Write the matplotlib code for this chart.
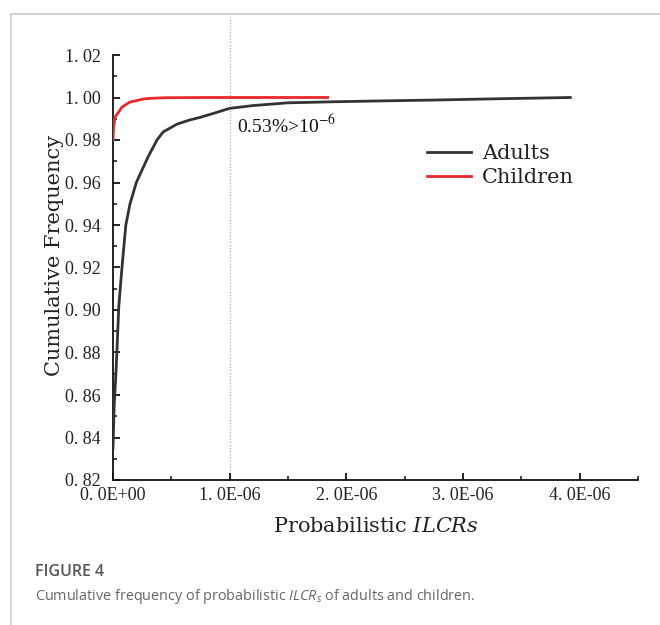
import matplotlib
matplotlib.use("Agg")
import matplotlib.pyplot as plt
from matplotlib.ticker import FixedLocator, MultipleLocator, FuncFormatter
from matplotlib.lines import Line2D

plt.rcParams["mathtext.fontset"] = "custom"
plt.rcParams["mathtext.rm"] = "Open Sans"
plt.rcParams["mathtext.it"] = "Open Sans:italic"

# ---- data (x in units of 1E-06) ----
adult_x = [0, 0.01, 0.026, 0.05, 0.077, 0.11, 0.146, 0.2, 0.25, 0.3, 0.377, 0.43,
           0.55, 0.65, 0.75, 0.86, 1.0, 1.2, 1.5, 1.9, 2.3, 2.75, 3.2, 3.6, 3.92]
adult_y = [0.835, 0.855, 0.871, 0.902, 0.92, 0.94, 0.95, 0.96, 0.966, 0.972, 0.98, 0.9838,
           0.9875, 0.9893, 0.9907, 0.9925, 0.9949, 0.9962, 0.9975, 0.998, 0.9984,
           0.9988, 0.9993, 0.9997, 1.0]
child_x = [0, 0.005, 0.017, 0.043, 0.077, 0.146, 0.2, 0.26, 0.32, 0.45, 0.8, 1.3, 1.84]
child_y = [0.980, 0.986, 0.9908, 0.9927, 0.9955, 0.9979, 0.9985, 0.9993, 0.9996, 0.9999,
           1.0, 1.0, 1.0]
series_labels = ["Adults", "Children"]
x_label = "Probabilistic"
annot_text = "0.53%>10"
y_ticks = [0.82, 0.84, 0.86, 0.88, 0.90, 0.92, 0.94, 0.96, 0.98, 1.00, 1.02]
x_ticks = [0, 1e-6, 2e-6, 3e-6, 4e-6]

SCALE = 1e-6
ax_x = [v * SCALE for v in adult_x]
cx_x = [v * SCALE for v in child_x]

fig = plt.figure(figsize=(6.6, 6.25), dpi=100)
ax = fig.add_axes([113 / 660, 1 - 480 / 625, (638 - 113) / 660, (480 - 55) / 625])

ax.plot(ax_x, adult_y, color="#333333", lw=2.0, solid_joinstyle="round", zorder=3)
ax.plot(cx_x, child_y, color="#e8282b", lw=2.0, solid_joinstyle="round", zorder=4)

ax.set_xlim(0, 4.5e-6)
ax.set_ylim(0.82, 1.02)

# dotted reference line at 1E-06
ax.plot([1e-6, 1e-6], [0.82, 1.038], color="#aaaaaa", lw=0.9, ls=(0, (1, 1.5)),
        clip_on=False, zorder=1)

for s in ["top", "right"]:
    ax.spines[s].set_visible(False)
for s in ["left", "bottom"]:
    ax.spines[s].set_linewidth(1.3)
    ax.spines[s].set_color("#111111")

ax.yaxis.set_major_locator(FixedLocator(y_ticks))
ax.yaxis.set_minor_locator(MultipleLocator(0.01))
ax.xaxis.set_major_locator(FixedLocator(x_ticks))
ax.xaxis.set_minor_locator(MultipleLocator(0.5e-6))
ax.yaxis.set_major_formatter(FuncFormatter(lambda v, p: f"{v:.2f}".replace(".", ". ")))
def xfmt(v, p):
    m, e = f"{v:.1E}".split("E")
    return m.replace(".", ". ") + "E" + e
ax.xaxis.set_major_formatter(FuncFormatter(xfmt))

ax.tick_params(which="major", direction="in", length=5, width=1.3, color="#111111",
               labelsize=13)
ax.tick_params(which="minor", direction="in", length=3, width=1.1, color="#111111")
ax.tick_params(axis="y", which="major", pad=9)
ax.tick_params(axis="x", which="major", pad=5)
for lab in ax.get_xticklabels() + ax.get_yticklabels():
    lab.set_fontfamily("Liberation Serif")
    lab.set_color("#222222")
for lab in ax.get_yticklabels():
    lab.set_verticalalignment("center_baseline")

fig.text(55 / 660, 1 - 255 / 625, "Cumulative Frequency", rotation=90, ha="center",
         va="center", family="DejaVu Serif", fontsize=15, color="#222222")
fig.text(376 / 660, 1 - 527 / 625,
         x_label + r" $\mathit{ILCRs}$", ha="center", va="center",
         family="DejaVu Serif", fontsize=15, color="#222222", math_fontfamily="dejavuserif")

ax.text(1.06e-6, 0.987, annot_text + r"$^{-6}$", family="Liberation Serif",
        fontsize=14, color="#111111", ha="left", va="center", math_fontfamily="stix")

handles = [Line2D([], [], color="#333333", lw=2.0), Line2D([], [], color="#e8282b", lw=2.0)]
leg = ax.legend(handles, series_labels, loc="upper left",
                bbox_to_anchor=((427 - 113) / 525, 1 - (144 - 55) / 425),
                frameon=False, handlelength=2.1, handletextpad=0.55,
                labelspacing=0.25, borderpad=0, borderaxespad=0,
                prop={"family": "DejaVu Serif", "size": 15})
for t in leg.get_texts():
    t.set_color("#222222")

# page frame lines
fig.add_artist(Line2D([11 / 660, 11 / 660], [0, 1 - 14 / 625], color="#cccccc", lw=1.2))
fig.add_artist(Line2D([11 / 660, 1], [1 - 14 / 625, 1 - 14 / 625], color="#cccccc", lw=1.2))

fig.text(35 / 660, 1 - 572 / 625, "FIGURE 4", family="Open Sans", fontweight="semibold",
         fontsize=11.5, color="#555555", ha="left", va="center")
fig.text(35 / 660, 1 - 597 / 625,
         r"Cumulative frequency of probabilistic $\mathit{ILCR}_{s}$ of adults and children.",
         family="Open Sans", fontsize=10.4, color="#666666", ha="left", va="center",
         math_fontfamily="custom")

fig.savefig("out.png", dpi=100, facecolor="white")
